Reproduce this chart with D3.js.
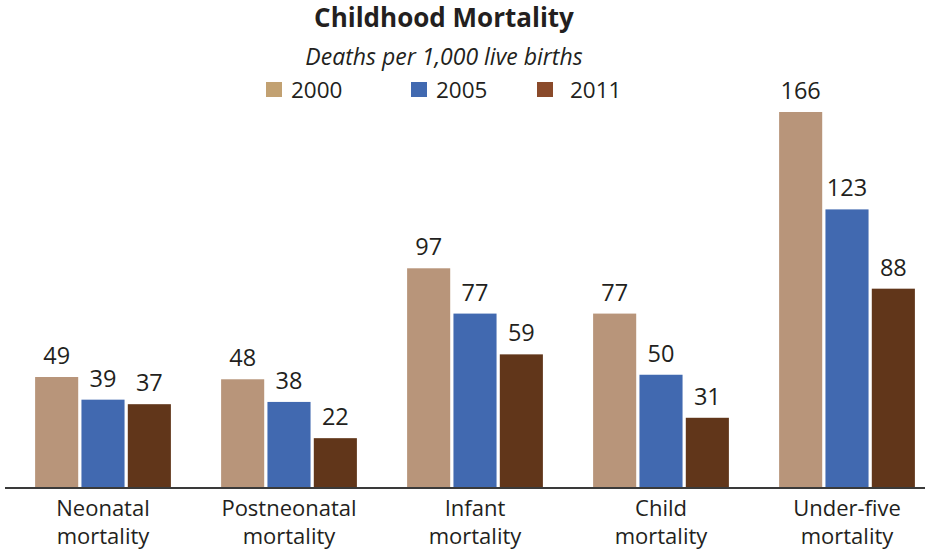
<!DOCTYPE html>
<html>
<head>
<meta charset="utf-8">
<script src="https://cdn.jsdelivr.net/npm/d3@7"></script>
<style>
  html, body { margin: 0; padding: 0; background: #fff; }
  svg { display: block; }
  text { font-family: "Open Sans", "Noto Sans", sans-serif; fill: #231f20; }
</style>
</head>
<body>
<svg id="chart" width="925" height="551"></svg>
<script>
const categories = [["Neonatal", "mortality"], ["Postneonatal", "mortality"], ["Infant", "mortality"], ["Child", "mortality"], ["Under-five", "mortality"]];
const years = ["2000", "2005", "2011"];
const values2000 = [49, 48, 97, 77, 166];
const values2005 = [39, 38, 77, 50, 123];
const values2011 = [37, 22, 59, 31, 88];
const barColors = ["#b8957a", "#4169b0", "#61361a"];
const legendColors = ["#c2a172", "#4169b0", "#8a4a2a"];

const series = [values2000, values2005, values2011];
const catKeys = categories.map(c => c.join(" "));

const svg = d3.select("#chart");
const baseY = 488;

const x0 = d3.scaleBand().domain(catKeys).range([10, 940]).paddingInner(0.27).paddingOuter(0.135);
const x1 = d3.scaleBand().domain(years).range([0, x0.bandwidth()]).paddingInner(0.07).paddingOuter(0);
const y = d3.scaleLinear().domain([0, d3.max(values2000)]).range([baseY, 112]);

// Title
svg.append("text").attr("x", 444).attr("y", 27).attr("text-anchor", "middle")
  .style("font-weight", "bold").style("font-size", "26px").text("Childhood Mortality");
svg.append("text").attr("x", 444).attr("y", 65).attr("text-anchor", "middle")
  .style("font-style", "italic").style("font-size", "23px").text("Deaths per 1,000 live births");

// Legend
const legendX = [266, 411, 537];
const lg = svg.append("g");
years.forEach((yr, i) => {
  lg.append("rect").attr("x", legendX[i]).attr("y", 82).attr("width", 16).attr("height", 15).attr("fill", legendColors[i]);
  lg.append("text").attr("x", legendX[i] + (i === 2 ? 33 : 25)).attr("y", 98).style("font-size", "22.5px").text(yr);
});

// Bars
const groups = svg.append("g").selectAll("g").data(catKeys).join("g")
  .attr("transform", d => `translate(${x0(d)},0)`);

groups.each(function(cat, ci) {
  const g = d3.select(this);
  years.forEach((yr, si) => {
    const v = series[si][ci];
    g.append("rect")
      .attr("x", x1(yr)).attr("y", y(v))
      .attr("width", x1.bandwidth()).attr("height", baseY - y(v))
      .attr("fill", barColors[si]);
    g.append("text")
      .attr("x", x1(yr) + x1.bandwidth() / 2).attr("y", y(v) - 13)
      .attr("text-anchor", "middle").style("font-size", "23.5px").text(v);
  });
});

// Axis baseline
svg.append("line").attr("x1", 5).attr("x2", 925).attr("y1", baseY).attr("y2", baseY)
  .attr("stroke", "#3a3a3a").attr("stroke-width", 2);

// Category labels
categories.forEach((c, i) => {
  const cx = x0(catKeys[i]) + x0.bandwidth() / 2;
  svg.append("text").attr("text-anchor", "middle").style("font-size", "22px")
    .attr("x", cx).attr("y", 516).text(c[0]);
  svg.append("text").attr("text-anchor", "middle").style("font-size", "22px")
    .attr("x", cx).attr("y", 544).text(c[1]);
});
</script>
</body>
</html>
